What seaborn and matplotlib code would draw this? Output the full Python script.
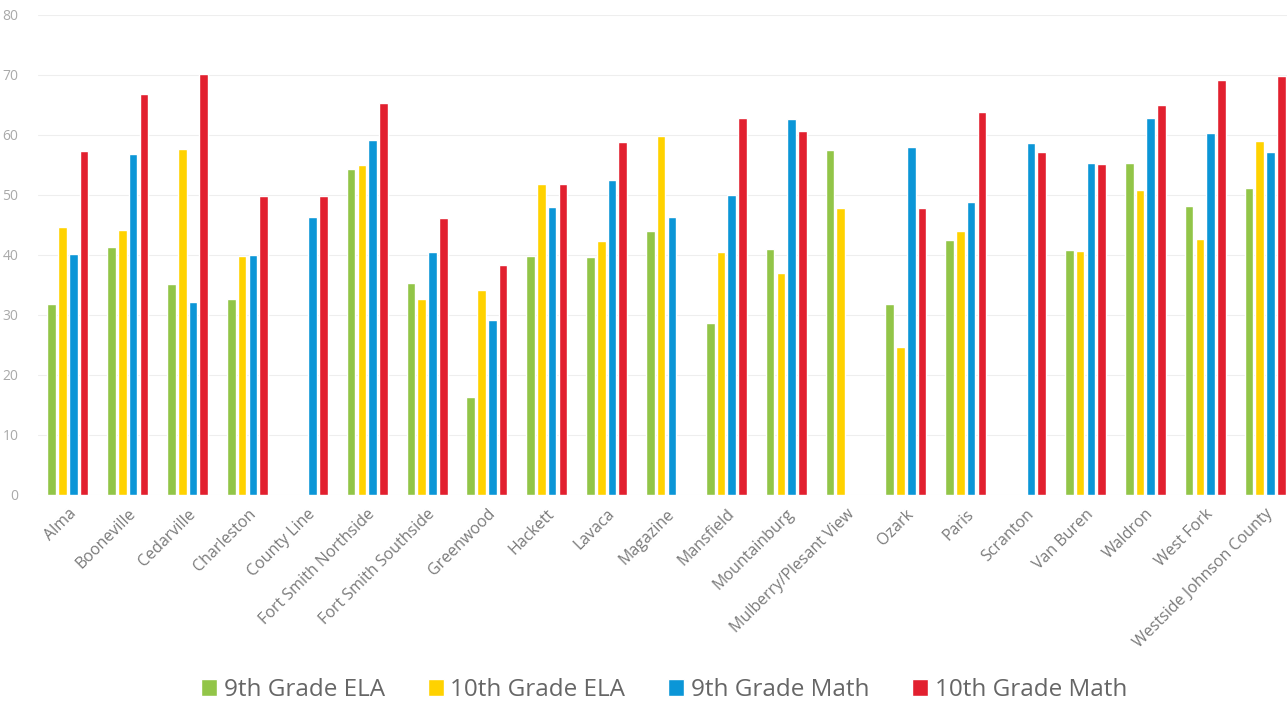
import numpy as np
import pandas as pd
import matplotlib
matplotlib.use("Agg")
import matplotlib.pyplot as plt
import seaborn as sns

# School districts (x categories)
schools = [
    "Alma", "Booneville", "Cedarville", "Charleston", "County Line",
    "Fort Smith Northside", "Fort Smith Southside", "Greenwood", "Hackett",
    "Lavaca", "Magazine", "Mansfield", "Mountainburg", "Mulberry/Plesant View",
    "Ozark", "Paris", "Scranton", "Van Buren", "Waldron", "West Fork",
    "Westside Johnson County",
]

nan = np.nan
ela_9 = [31.9, 41.3, 35.1, 32.6, nan, 54.3, 35.3, 16.4, 39.8, 39.6, 44.0,
         28.6, 41.0, 57.5, 31.8, 42.5, nan, 40.8, 55.4, 48.2, 51.2]
ela_10 = [44.7, 44.1, 57.7, 39.8, nan, 55.0, 32.6, 34.2, 51.8, 42.4, 59.8,
          40.5, 37.0, 47.8, 24.6, 44.0, nan, 40.7, 50.9, 42.7, 59.0]
math_9 = [40.2, 56.8, 32.2, 40.0, 46.3, 59.2, 40.5, 29.2, 48.0, 52.5, 46.3,
          50.0, 62.7, nan, 58.0, 48.9, 58.7, 55.3, 62.9, 60.4, 57.2]
math_10 = [57.3, 66.9, 70.1, 49.8, 49.8, 65.3, 46.1, 38.4, 51.8, 58.8, nan,
           62.8, 60.7, nan, 47.9, 63.9, 57.2, 55.1, 65.0, 69.2, 69.9]

series = ["9th Grade ELA", "10th Grade ELA", "9th Grade Math", "10th Grade Math"]
colors = ["#92C548", "#FFD200", "#0B96D7", "#E2202F"]

df = pd.DataFrame({
    "school": schools * 4,
    "series": np.repeat(series, len(schools)),
    "score": ela_9 + ela_10 + math_9 + math_10,
})
df = df.dropna()

sns.set_style("white")
plt.rcParams["font.family"] = ["Open Sans", "DejaVu Sans"]

fig = plt.figure(figsize=(12.87, 7.06), dpi=100)
ax = fig.add_axes([38 / 1287, 1 - 495 / 706, 1257 / 1287, 480 / 706])

sns.barplot(data=df, x="school", y="score", hue="series",
            order=schools, hue_order=series, palette=colors,
            errorbar=None, gap=0.2, width=0.72, saturation=1,
            ax=ax)

ax.set_xlim(-0.5, len(schools) - 0.5)
ax.set_ylim(0, 80)
ax.set_yticks(range(0, 81, 10))
ax.yaxis.grid(True, color="#eeeeee", linewidth=0.8)
ax.set_axisbelow(True)
sns.despine(ax=ax, left=True, bottom=True)
ax.set_xlabel("")
ax.set_ylabel("")
ax.tick_params(axis="y", labelsize=10, labelcolor="#a9a9a9", length=0, pad=14)
ax.tick_params(axis="x", length=0, pad=8)
plt.setp(ax.get_xticklabels(), rotation=45, ha="right", rotation_mode="anchor",
         fontsize=11.5, color="#7a7a7a")

handles, labels = ax.get_legend_handles_labels()
ax.get_legend().remove()
fig.legend(handles, labels, loc="center", bbox_to_anchor=(664 / 1287, 1 - 690 / 706),
           ncol=4, frameon=False, fontsize=17.5, handlelength=0.66, handleheight=0.66,
           handletextpad=0.28, columnspacing=1.75, labelcolor="#666666")

fig.savefig("out.png", dpi=100)
